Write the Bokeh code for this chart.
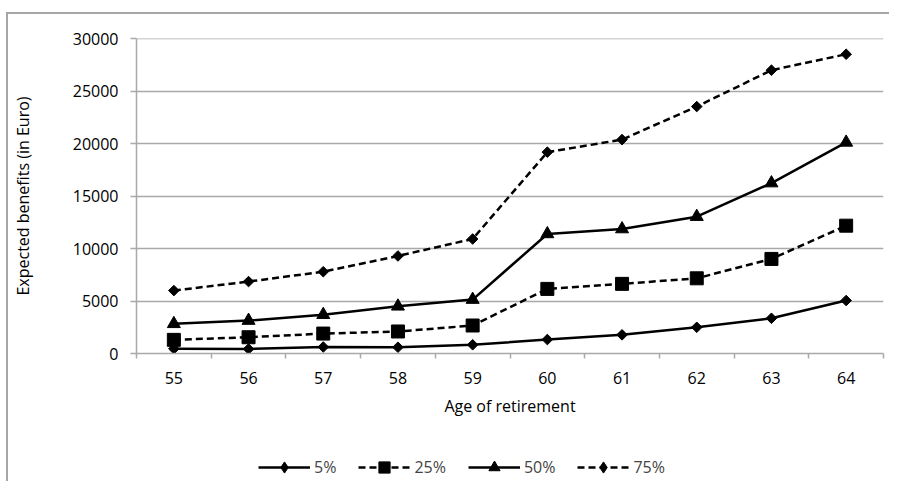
import math
from bokeh.plotting import figure
from bokeh.layouts import column
from bokeh.models import (Range1d, FixedTicker, NumeralTickFormatter, Legend, LegendItem,
                          ColumnDataSource)
from bokeh.embed import file_html
from bokeh.resources import INLINE

ages = [55, 56, 57, 58, 59, 60, 61, 62, 63, 64]
age_labels = ["55", "56", "57", "58", "59", "60", "61", "62", "63", "64"]
p5 = [450, 430, 620, 600, 830, 1330, 1780, 2500, 3360, 5050]
p25 = [1300, 1550, 1900, 2100, 2670, 6160, 6640, 7170, 9020, 12190]
p50 = [2830, 3140, 3700, 4500, 5140, 11400, 11870, 13050, 16250, 20130]
p75 = [6000, 6860, 7800, 9300, 10920, 19200, 20400, 23550, 27020, 28540]
y_ticks = [0, 5000, 10000, 15000, 20000, 25000, 30000]
series_names = ["5%", "25%", "50%", "75%"]

FONT = "Open Sans"
GRID = "#a9a9a9"
BORDER = "2px solid #a6a6a6"

# ---------------- main chart ----------------
p = figure(width=881, height=409, output_backend="svg", toolbar_location=None,
           x_range=Range1d(54.5, 64.5), y_range=Range1d(0, 30040),
           min_border_left=123, min_border_right=6, min_border_top=24, min_border_bottom=70)
p.outline_line_color = None
p.background_fill_color = "white"
p.border_fill_color = "white"

p.xaxis.ticker = FixedTicker(ticks=ages, minor_ticks=[a - 0.5 for a in ages] + [64.5])
p.xaxis.major_label_overrides = {a: l for a, l in zip(ages, age_labels)}
p.xaxis.major_tick_out = 0
p.xaxis.major_tick_in = 0
p.xaxis.minor_tick_out = 5
p.xaxis.minor_tick_in = 0
p.xaxis.minor_tick_line_color = GRID
p.xaxis.minor_tick_line_width = 1.5
p.xaxis.axis_line_color = GRID
p.xaxis.axis_line_width = 1.5
p.xaxis.major_label_standoff = 13
p.xaxis.axis_label = "Age of retirement"
p.xaxis.axis_label_standoff = 8

p.yaxis.ticker = FixedTicker(ticks=y_ticks)
p.yaxis.formatter = NumeralTickFormatter(format="0")
p.yaxis.major_tick_out = 6
p.yaxis.major_tick_in = 0
p.yaxis.minor_tick_out = 0
p.yaxis.minor_tick_in = 0
p.yaxis.major_tick_line_color = GRID
p.yaxis.major_tick_line_width = 1.5
p.yaxis.axis_line_color = GRID
p.yaxis.axis_line_width = 1.5
p.yaxis.major_label_standoff = 12
p.yaxis.axis_label = "Expected benefits (in Euro)"
p.yaxis.axis_label_standoff = 36

for ax in (p.xaxis, p.yaxis):
    ax.major_label_text_font = FONT
    ax.major_label_text_font_size = "16px"
    ax.major_label_text_color = "black"
    ax.axis_label_text_font = FONT
    ax.axis_label_text_font_size = "16px"
    ax.axis_label_text_font_style = "normal"
    ax.axis_label_text_color = "black"

p.xgrid.visible = False
p.ygrid.grid_line_color = GRID
p.ygrid.grid_line_width = 1.5

src = ColumnDataSource(dict(x=ages, p5=p5, p25=p25, p50=p50, p75=p75))

# (column, dash, marker in chart, size, angle, marker in legend)
specs = [
    ("p5", "solid", "square", 7.5, math.pi / 4, "diamond"),
    ("p25", "7 4", "square", 13, 0, "square"),
    ("p50", "solid", "triangle", 13, 0, "triangle"),
    ("p75", "7 4", "square", 7.5, math.pi / 4, "diamond"),
]
for col, dash, marker, size, ang, _ in specs:
    p.line("x", col, source=src, line_color="black", line_width=2.5, line_dash=dash)
    p.scatter("x", col, source=src, marker=marker, size=size, angle=ang,
              fill_color="black", line_color="black")

# ---------------- legend strip ----------------
lg = figure(width=881, height=58, output_backend="svg", toolbar_location=None,
            x_range=Range1d(0, 1), y_range=Range1d(0, 1),
            x_axis_location=None, y_axis_location=None, min_border=0)
lg.outline_line_color = None
lg.grid.visible = False
lg.background_fill_color = "white"
lg.border_fill_color = "white"

items = []
for name, (col, dash, marker, size, ang, lmarker) in zip(series_names, specs):
    l = lg.line("x", col, source=src, line_color="black", line_width=2.5, line_dash=dash)
    s = lg.scatter("x", col, source=src, marker=lmarker, size=size,
                   fill_color="black", line_color="black")
    items.append(LegendItem(label=name, renderers=[l, s]))

legend = Legend(items=items, orientation="horizontal", location=(122, 0),
                glyph_width=52, glyph_height=28, label_standoff=4, spacing=22,
                padding=0, margin=0, border_line_alpha=0, background_fill_alpha=0,
                label_text_font=FONT, label_text_font_size="16px", label_height=28)
lg.add_layout(legend, "center")

layout = column(p, lg, spacing=0)
layout.styles = {"border-top": BORDER, "border-left": BORDER,
                 "margin-top": "12px", "margin-left": "6px"}

open("out.html", "w").write(file_html(layout, INLINE))
